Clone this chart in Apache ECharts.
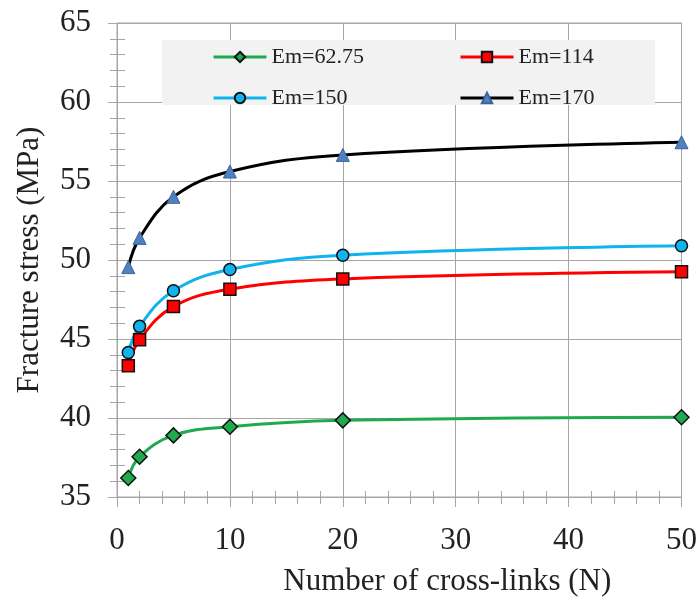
<!DOCTYPE html>
<html>
<head>
<meta charset="utf-8">
<script src="https://cdn.jsdelivr.net/npm/echarts@6/dist/echarts.min.js"></script>
<style>html,body{margin:0;padding:0;background:#fff}#c{width:700px;height:602px}</style>
</head>
<body>
<div id="c"></div>
<script>
var xs = [1, 2, 5, 10, 20, 50];
var em6275 = [36.2, 37.55, 38.9, 39.45, 39.85, 40.05];
var em114 = [43.3, 44.95, 47.05, 48.15, 48.8, 49.25];
var em150 = [44.15, 45.8, 48.05, 49.4, 50.3, 50.9];
var em170 = [49.55, 51.4, 54.0, 55.6, 56.65, 57.45];
var names = ['Em=62.75', 'Em=114', 'Em=150', 'Em=170'];

function pairs(ys) { return xs.map(function (x, i) { return [x, ys[i]]; }); }

var FONT = '"Liberation Serif", "Times New Roman", serif';
var GRID = '#a6a6a6';

var chart = echarts.init(document.getElementById('c'), null, {renderer: 'canvas'});
chart.setOption({
  animation: false,
  backgroundColor: '#fff',
  grid: {left: 117, right: 18, top: 23, bottom: 104, show: true, borderColor: GRID, borderWidth: 1},
  graphic: [{
    type: 'rect', left: 162, top: 40, z: 5,
    shape: {width: 493, height: 65},
    style: {fill: '#f2f2f2', stroke: null}
  }],
  legend: [{
    data: [names[0], names[2]], orient: 'vertical', left: 212, top: 46, z: 10,
    itemWidth: 53, itemHeight: 13, itemGap: 19, padding: 0,
    lineStyle: {width: 3},
    textStyle: {fontFamily: FONT, fontSize: 22, color: '#222'}
  }, {
    data: [names[1], names[3]], orient: 'vertical', left: 459, top: 46, z: 10,
    itemWidth: 53, itemHeight: 13, itemGap: 19, padding: 0,
    lineStyle: {width: 3},
    textStyle: {fontFamily: FONT, fontSize: 22, color: '#222'}
  }],
  xAxis: [{
    type: 'value', min: 0, max: 50, interval: 10,
    name: 'Number of cross-links (N)', nameLocation: 'middle', nameGap: 69,
    nameTextStyle: {fontFamily: FONT, fontSize: 31, color: '#222', padding: [0, 0, 0, 96]},
    axisLine: {show: true, lineStyle: {color: GRID, width: 1}},
    axisTick: {show: true, length: 10, lineStyle: {color: GRID}},
    minorTick: {show: true, splitNumber: 5, length: 7, lineStyle: {color: GRID}},
    splitLine: {show: true, lineStyle: {color: GRID, width: 1}},
    axisLabel: {fontFamily: FONT, fontSize: 31, color: '#222', margin: 28}
  }, {
    type: 'value', min: 0, max: 50, interval: 10, position: 'bottom',
    axisLine: {show: false}, axisLabel: {show: false}, splitLine: {show: false},
    axisTick: {show: false, inside: true, length: 6, lineStyle: {color: GRID}},
    minorTick: {show: true, splitNumber: 5, length: 6, lineStyle: {color: GRID}}
  }],
  yAxis: [{
    type: 'value', min: 35, max: 65, interval: 5,
    name: 'Fracture stress (MPa)', nameLocation: 'middle', nameGap: 72,
    nameTextStyle: {fontFamily: FONT, fontSize: 31, color: '#222'},
    axisLine: {show: true, lineStyle: {color: GRID, width: 1}},
    axisTick: {show: true, length: 9, lineStyle: {color: GRID}},
    minorTick: {show: true, splitNumber: 5, length: 7, lineStyle: {color: GRID}},
    splitLine: {show: true, lineStyle: {color: GRID, width: 1}},
    axisLabel: {fontFamily: FONT, fontSize: 31, color: '#222', margin: 26}
  }, {
    type: 'value', min: 35, max: 65, interval: 5, position: 'left',
    axisLine: {show: false}, axisLabel: {show: false}, splitLine: {show: false},
    axisTick: {show: false, inside: true, length: 8, lineStyle: {color: GRID}},
    minorTick: {show: true, splitNumber: 5, length: 8, lineStyle: {color: GRID}}
  }],
  series: [{
    name: names[0], type: 'line', data: pairs(em6275), smooth: 0.4,
    symbol: 'diamond', symbolSize: 15, z: 3,
    lineStyle: {color: '#1faa4f', width: 3},
    itemStyle: {color: '#1faa4f', borderColor: '#111', borderWidth: 1.5}
  }, {
    name: names[1], type: 'line', data: pairs(em114), smooth: 0.4,
    symbol: 'rect', symbolSize: 12, z: 3,
    lineStyle: {color: '#ff0000', width: 3},
    itemStyle: {color: '#ff0000', borderColor: '#111', borderWidth: 1.5}
  }, {
    name: names[2], type: 'line', data: pairs(em150), smooth: 0.4,
    symbol: 'circle', symbolSize: 12, z: 3,
    lineStyle: {color: '#10b4ec', width: 3},
    itemStyle: {color: '#10b4ec', borderColor: '#111', borderWidth: 1.5}
  }, {
    name: names[3], type: 'line', data: pairs(em170), smooth: 0.4,
    symbol: 'triangle', symbolSize: 13, z: 3,
    lineStyle: {color: '#000', width: 3},
    itemStyle: {color: '#4f81bd', borderColor: '#3a63a0', borderWidth: 1}
  }]
});
</script>
</body>
</html>
